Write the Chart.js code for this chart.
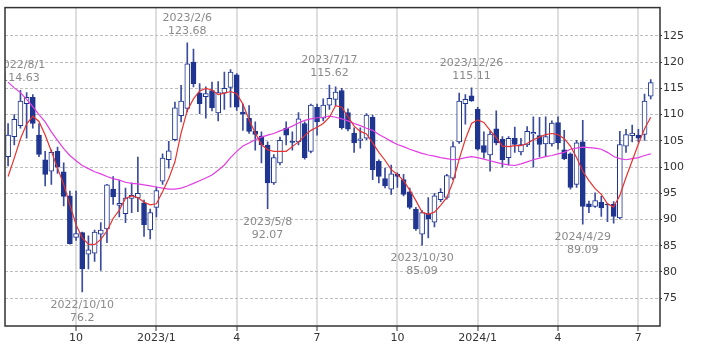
<!DOCTYPE html>
<html><head><meta charset="utf-8">
<script src="https://cdn.jsdelivr.net/npm/chart.js@4.4.1/dist/chart.umd.min.js"></script>
<style>html,body{margin:0;padding:0;background:#fff}#wrap{width:709px;height:354px;position:relative}</style>
</head><body><div id="wrap"><canvas id="c" width="709" height="354"></canvas></div>
<script>
// Weekly candles, week 0 = 2022-07-18
const opens = [102.0,105.8,107.9,112.1,113.3,106.1,101.4,99.2,103.0,99.1, 94.5,86.6,87.5,83.4,83.6,87.2,88.2,95.8,92.7,91.1, 94.0,94.1,93.2,88.0,92.3,97.3,101.4,105.2,109.8,111.2, 120.0,114.1,113.4,114.6,110.3,114.1,115.2,117.6,110.5,109.3, 106.8,105.9,104.2,97.0,100.8,107.4,104.9,104.8,108.3,103.0, 111.4,109.3,111.8,112.9,114.6,110.4,106.5,105.1,105.5,109.5, 101.1,97.8,95.8,98.6,97.6,95.3,92.0,87.2,91.1,89.5, 93.8,94.2,97.9,104.8,112.1,113.6,111.0,104.1,102.3,107.3, 105.3,101.8,105.5,102.9,104.2,106.3,106.0,104.4,104.4,108.5, 103.3,102.5,96.7,104.8,93.0,92.5,93.3,92.9,92.9,90.3, 104.0,106.0,106.1,106.2,113.5];
const highs = [108.3,110.0,114.63,114.2,113.8,108.3,103.0,103.3,103.8,100.8, 95.4,95.4,87.6,86.9,88.0,89.4,96.7,98.2,97.5,96.0, 97.0,101.9,93.7,92.0,96.2,102.5,104.9,112.4,115.6,123.68, 122.5,115.9,115.3,116.2,116.3,118.1,118.6,117.8,112.0,111.7, 108.6,106.7,104.8,102.4,105.7,108.6,106.7,110.4,108.6,112.0, 112.0,113.0,115.62,115.3,115.0,111.1,107.5,107.5,110.2,109.9, 101.4,99.8,100.4,98.9,98.6,96.0,92.3,91.7,94.2,95.0, 95.9,98.6,104.8,114.1,113.8,115.11,111.4,106.7,106.8,110.7, 105.8,105.8,107.6,105.5,107.7,109.6,109.5,109.6,108.8,109.6, 107.0,102.7,105.1,108.9,93.5,95.1,94.4,93.1,93.4,106.8, 107.2,108.0,107.2,113.9,116.7];
const lows = [100.2,104.2,107.4,105.5,107.4,102.0,96.4,96.7,98.8,92.6, 85.3,86.0,76.2,80.6,82.0,80.3,85.6,92.9,90.5,89.4, 91.3,91.5,86.8,86.3,90.5,96.7,99.8,105.0,108.6,110.5, 115.3,110.2,109.3,110.7,108.8,111.0,111.4,110.8,107.0,106.4, 103.2,100.8,92.07,96.7,100.4,104.2,103.2,104.2,101.5,102.7, 106.1,108.8,111.0,111.7,107.2,106.9,102.8,103.6,105.2,97.6, 97.0,96.0,94.8,96.1,94.5,92.0,87.9,85.09,86.5,88.6, 93.4,93.9,97.6,104.5,108.2,112.5,103.2,101.7,99.2,104.2, 100.0,100.4,102.8,102.3,103.9,100.0,102.0,102.0,104.0,103.4, 101.4,95.8,96.1,89.09,91.3,92.3,90.6,89.6,89.3,90.1, 102.8,104.8,104.8,105.1,113.0];
const closes = [106.1,109.1,112.6,113.3,108.3,102.4,98.6,102.8,100.0,94.4, 85.4,87.3,80.6,84.2,87.6,88.0,96.6,94.3,93.1,94.1, 94.6,95.0,89.0,91.3,95.5,101.7,103.1,111.3,112.6,119.7, 115.9,112.1,114.0,111.3,114.2,115.0,118.1,111.4,110.1,106.8, 106.2,104.2,97.0,101.8,105.1,106.1,104.7,109.2,101.8,111.8, 108.6,111.8,113.1,114.3,107.5,107.2,104.6,105.4,109.9,99.5, 98.2,96.4,98.7,98.2,94.8,92.3,88.2,91.3,90.1,94.5, 95.2,98.4,103.9,112.6,112.9,112.6,103.4,102.8,106.3,104.6, 101.4,105.5,104.3,104.3,106.8,106.6,104.3,105.8,108.4,104.6, 101.6,96.1,104.6,92.5,92.4,93.6,92.2,92.8,90.6,104.3, 106.2,106.5,105.5,112.6,116.1];
const maShort = [98.2,101.7,105.4,108.2,109.7,108.7,106.1,103.0,99.8,96.7, 92.8,89.0,86.5,85.3,85.2,86.2,87.8,90.2,91.8,94.0, 94.5,94.2,93.3,92.8,93.0,95.3,97.8,101.0,106.5,110.8, 113.0,114.5,115.0,114.7,113.8,114.1,114.4,114.0,112.0,109.0, 106.5,104.3,103.3,103.0,103.0,103.0,103.9,104.8,106.0,107.0, 107.6,108.3,109.5,111.7,111.4,109.6,107.8,106.8,106.3,104.6, 102.8,101.3,99.5,98.6,97.4,95.6,93.6,91.4,91.0,91.4, 92.7,94.2,97.2,101.5,105.3,108.3,109.0,108.5,107.0,105.6, 104.0,103.9,104.1,104.1,104.5,105.2,105.7,106.2,106.4,106.2, 105.4,104.0,101.8,99.2,97.4,95.9,94.8,93.0,92.4,94.6, 98.0,101.2,104.4,107.3,109.5];
const maLong = [116.2,115.1,114.2,112.9,111.5,110.0,108.6,106.7,105.1,103.5, 102.2,101.2,100.3,99.7,99.1,98.7,98.2,97.8,97.5,97.1, 96.9,96.8,96.6,96.4,96.2,96.0,95.8,95.8,96.0,96.4, 96.9,97.4,97.9,98.5,99.4,100.4,101.8,103.0,104.0,104.6, 105.2,105.7,106.1,106.4,106.9,107.3,107.8,108.4,108.9,109.2, 109.4,109.5,109.7,109.5,109.2,108.8,108.3,107.9,107.4,107.0, 106.2,105.6,104.9,104.3,103.9,103.4,103.0,102.6,102.3,102.1, 101.8,101.6,101.4,101.5,101.8,102.0,101.8,101.5,101.2,100.9, 100.6,100.4,100.3,100.6,101.0,101.4,101.7,102.0,102.2,102.5, 102.8,103.4,103.6,103.8,103.7,103.6,103.4,102.8,102.0,101.6, 101.4,101.6,101.8,102.2,102.5];
const xTickIdx = [11,24,37,50,63,76,89,102];
const xTickLabels = ['10','2023/1','4','7','10','2024/1','4','7'];
const yTicks = [75,80,85,90,95,100,105,110,115,120,125];
const annIdx = [2,29,52,75,12,42,67,93];
const annDate = ['2022/8/1','2023/2/6','2023/7/17','2023/12/26','2022/10/10','2023/5/8','2023/10/30','2024/4/29'];
const annVal = ['114.63','123.68','115.62','115.11','76.2','92.07','85.09','89.09'];
const annSide = ['high','high','high','high','low','low','low','low'];

const NAVY = '#1f3590';
const WICK = '#3b4c9e';
const FONT = '"DejaVu Sans", Verdana, sans-serif';
const idx = closes.map((_, i) => i);

const borderPlugin = {
  id: 'frame',
  afterDraw(chart) {
    const {ctx, chartArea: a} = chart;
    ctx.save();
    ctx.strokeStyle = '#333';
    ctx.lineWidth = 1.5;
    ctx.strokeRect(a.left, a.top, a.right - a.left, a.bottom - a.top);
    ctx.restore();
  }
};
const annPlugin = {
  id: 'ann',
  afterDatasetsDraw(chart) {
    const {ctx, chartArea: a, scales: {x, y}} = chart;
    ctx.save();
    ctx.beginPath();
    ctx.rect(a.left, a.top, a.right - a.left, a.bottom - a.top);
    ctx.clip();
    ctx.font = '11px ' + FONT;
    ctx.fillStyle = '#8a8a8a';
    ctx.textAlign = 'center';
    ctx.textBaseline = 'middle';
    annIdx.forEach((k, j) => {
      const px = x.getPixelForValue(k);
      if (annSide[j] === 'high') {
        const py = y.getPixelForValue(highs[k]);
        ctx.fillText(annDate[j], px, py - 25);
        ctx.fillText(annVal[j], px, py - 12);
      } else {
        const py = y.getPixelForValue(lows[k]);
        ctx.fillText(annDate[j], px, py + 13);
        ctx.fillText(annVal[j], px, py + 26);
      }
    });
    ctx.restore();
  }
};

new Chart(document.getElementById('c'), {
  type: 'bar',
  data: {
    datasets: [
      {type: 'line', data: idx.map(i => ({x: i, y: maShort[i]})), borderColor: '#e8322f', borderWidth: 1.2, pointRadius: 0, order: 0},
      {type: 'line', data: idx.map(i => ({x: i, y: maLong[i]})), borderColor: '#e23de2', borderWidth: 1.2, pointRadius: 0, order: 0},
      {type: 'bar', data: idx.map(i => ({x: i, y: [opens[i], closes[i]]})),
        backgroundColor: idx.map(i => closes[i] >= opens[i] ? '#ffffff' : NAVY),
        borderColor: NAVY, borderWidth: 1, borderSkipped: false, barThickness: 5, grouped: false, order: 1},
      {type: 'bar', data: idx.map(i => ({x: i, y: [lows[i], highs[i]]})),
        backgroundColor: WICK, borderWidth: 0, barThickness: 1, grouped: false, order: 2}
    ]
  },
  options: {
    responsive: false, animation: false, devicePixelRatio: 1,
    layout: {padding: {left: 5, top: 5, right: 0, bottom: 0}},
    plugins: {legend: {display: false}, tooltip: {enabled: false}},
    scales: {
      x: {
        type: 'linear', min: -0.5, max: 105.5, offset: false,
        afterBuildTicks: s => { s.ticks = xTickIdx.map(v => ({value: v})); },
        afterFit: s => { s.height = 28; },
        ticks: {autoSkip: false, maxRotation: 0, padding: 1, color: '#333', font: {family: FONT, size: 11},
          callback: v => { const k = xTickIdx.indexOf(v); return k >= 0 ? xTickLabels[k] : ''; }},
        grid: {offset: false, color: '#dedede', lineWidth: 2, tickColor: '#333', tickLength: 5, tickWidth: 1},
        border: {display: false}
      },
      y: {
        type: 'linear', position: 'right', min: 69.7, max: 130.4, beginAtZero: false,
        afterBuildTicks: s => { s.ticks = yTicks.map(v => ({value: v})); },
        afterFit: s => { s.width = 49; },
        ticks: {padding: 1, color: '#333', font: {family: FONT, size: 11}},
        grid: {color: '#bdbdbd', lineWidth: 1, tickColor: '#333', tickLength: 2, tickWidth: 1, tickBorderDash: []},
        border: {display: false, dash: [3, 2]}
      }
    }
  },
  plugins: [borderPlugin, annPlugin]
});
</script></body></html>
